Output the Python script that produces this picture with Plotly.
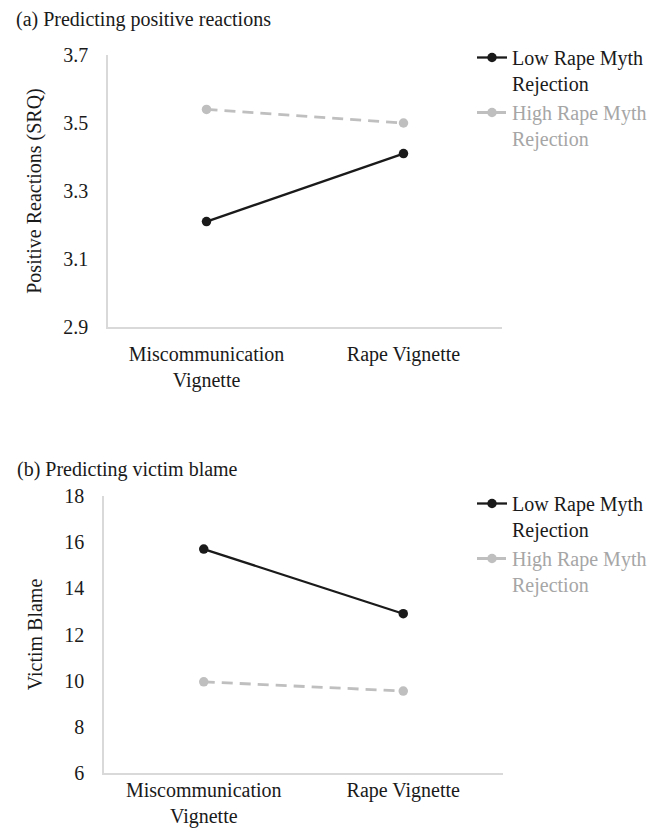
import plotly.graph_objects as go

# ---- data ----
categories = ["Miscommunication<br>Vignette", "Rape Vignette"]
series_names = ["Low Rape Myth<br>Rejection", "High Rape Myth<br>Rejection"]

pos_low = [3.21, 3.41]
pos_high = [3.54, 3.50]

blame_low = [15.7, 12.9]
blame_high = [9.95, 9.55]

pos_ticks = [2.9, 3.1, 3.3, 3.5, 3.7]
blame_ticks = [6, 8, 10, 12, 14, 16, 18]

# page is 664x829; the figure sits at the browser's 8px body margin
PAGE_W, PAGE_H = 664, 829
OFF = 8
W, H = PAGE_W - OFF, PAGE_H - OFF
FONT = "Liberation Serif"
FS = 20
BLACK = "#1a1a1a"
GREY = "#bfbfbf"
GREY_TXT = "#a6a6a6"
AXIS = "#d9d9d9"


def px_x(v):  # page pixel -> paper fraction
    return (v - OFF) / W


def px_y(v):
    return 1 - (v - OFF) / H


fig = go.Figure()


def grey_name(s):
    parts = s.split("<br>")
    return "<br>".join("<span style='color:%s'>%s</span>" % (GREY_TXT, p) for p in parts)


def add_pair(low, high, xa, ya, legend):
    fig.add_trace(go.Scatter(
        x=categories, y=low, xaxis=xa, yaxis=ya, mode="lines+markers",
        name=series_names[0],
        line=dict(color=BLACK, width=2.3),
        marker=dict(color=BLACK, size=9.5),
        legend=legend, showlegend=True))
    fig.add_trace(go.Scatter(
        x=categories, y=high, xaxis=xa, yaxis=ya, mode="lines+markers",
        name=grey_name(series_names[1]),
        line=dict(color=GREY, width=2.8, dash="11px,7px"),
        marker=dict(color=GREY, size=9.5),
        legend=legend, showlegend=True))


add_pair(pos_low, pos_high, "x", "y", "legend")
add_pair(blame_low, blame_high, "x2", "y2", "legend2")

common_x = dict(
    type="category", range=[-0.5, 1.5], showgrid=False, zeroline=False,
    showline=True, linecolor=AXIS, linewidth=1.5, ticks="outside",
    tickcolor="rgba(0,0,0,0)", automargin=False,
    tickfont=dict(family=FONT, size=FS, color=BLACK), fixedrange=True,
)
common_y = dict(
    showgrid=False, zeroline=False, showline=True, linecolor=AXIS, linewidth=1.5,
    ticks="outside", ticklen=14, tickcolor="rgba(0,0,0,0)", automargin=False,
    tickfont=dict(family=FONT, size=FS, color=BLACK),
)

legend_common = dict(
    font=dict(family=FONT, size=FS, color=BLACK),
    bgcolor="rgba(0,0,0,0)", xanchor="left", yanchor="top",
    valign="top", tracegroupgap=0, itemwidth=30,
)

fig.update_layout(
    width=W, height=H,
    margin=dict(l=0, r=0, t=0, b=0, autoexpand=False),
    paper_bgcolor="white", plot_bgcolor="white",
    font=dict(family=FONT, size=FS, color=BLACK),
    xaxis=dict(domain=[px_x(108), px_x(502)], anchor="y", ticklen=8, **common_x),
    yaxis=dict(domain=[px_y(327), px_y(55)], anchor="x", range=[2.9, 3.7],
               tickvals=pos_ticks, tickformat=".1f",
               title=dict(text="Positive Reactions (SRQ)", font=dict(family=FONT, size=FS, color=BLACK), standoff=16),
               **common_y),
    xaxis2=dict(domain=[px_x(104), px_x(503)], anchor="y2", ticklen=0,
                ticklabelstandoff=-2, **common_x),
    yaxis2=dict(domain=[px_y(773), px_y(496)], anchor="x2", range=[6, 18],
                tickvals=blame_ticks,
                title=dict(text="Victim Blame", font=dict(family=FONT, size=FS, color=BLACK), standoff=16),
                **common_y),
    legend=dict(x=px_x(472), y=px_y(38), **legend_common),
    legend2=dict(x=px_x(472), y=px_y(484), **legend_common),
    annotations=[
        dict(text="(a) Predicting positive reactions", x=px_x(14), y=px_y(19),
             xref="paper", yref="paper", xanchor="left", yanchor="middle",
             showarrow=False, font=dict(family=FONT, size=FS, color=BLACK)),
        dict(text="(b) Predicting victim blame", x=px_x(15), y=px_y(469),
             xref="paper", yref="paper", xanchor="left", yanchor="middle",
             showarrow=False, font=dict(family=FONT, size=FS, color=BLACK)),
    ],
)

fig.write_html("out.html")
